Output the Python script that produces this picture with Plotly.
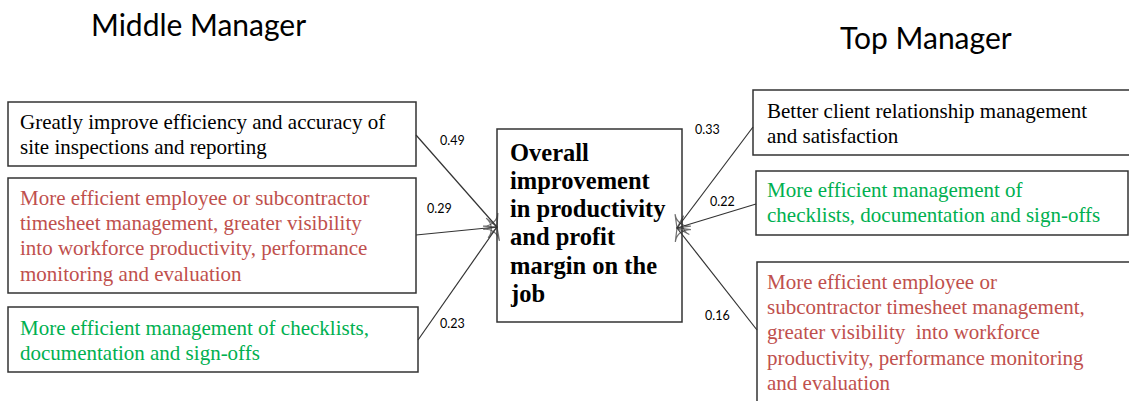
import plotly.graph_objects as go

# ---- data ----
group_titles = ["Middle Manager", "Top Manager"]
outcome_lines = ["Overall", "improvement", "in productivity", "and profit", "margin on the", "job"]
middle_items = [
    ["Greatly improve efficiency and accuracy of", "site inspections and reporting"],
    ["More efficient employee or subcontractor", "timesheet management, greater visibility",
     "into workforce productivity, performance", "monitoring and evaluation"],
    ["More efficient management of checklists,", "documentation and sign-offs"],
]
middle_weights = [0.49, 0.29, 0.23]
top_items = [
    ["Better client relationship management", "and satisfaction"],
    ["More efficient management of", "checklists, documentation and sign-offs"],
    ["More efficient employee or", "subcontractor timesheet management,", "greater visibility  into workforce",
     "productivity, performance monitoring", "and evaluation"],
]
top_weights = [0.33, 0.22, 0.16]
item_colors = ["#000000", "#C0504D", "#00B050"]
top_colors = ["#000000", "#00B050", "#C0504D"]

# ---- layout geometry (pixels) ----
W, H = 1129, 401
left_boxes = [(8, 102, 416, 166), (8, 178, 416, 293), (8, 307, 418, 372)]
left_first_line = [122, 198, 328]
left_start = [(416, 135), (416, 235), (418, 340)]
left_tip = (497, 227)
left_lbl = [(452, 140), (439, 208), (452, 323)]

right_boxes = [(753, 90, 1135, 155), (756, 171, 1128, 235), (757, 262, 1135, 410)]
right_first_line = [111, 190, 282]
right_start = [(753, 127), (756, 204), (757, 330)]
right_tip = (677, 228)
right_lbl = [(707, 129), (722, 201), (717, 315)]

center_box = (497, 129, 682, 322)
box_line_step = 25.2
center_line_step = 28.3

serif = "Liberation Serif, Times New Roman, serif"
sans = "Lato, Carlito, Calibri, sans-serif"

fig = go.Figure()
shapes = []
ann = []

def rect(b):
    shapes.append(dict(type="rect", xref="x", yref="y", x0=b[0], y0=b[1], x1=b[2], y1=b[3],
                       line=dict(color="#333333", width=1.5), fillcolor="rgba(0,0,0,0)"))

for b in left_boxes + right_boxes + [center_box]:
    rect(b)

def add_lines(lines, x0, y0, step, size, color, bold=False):
    for k, ln in enumerate(lines):
        t = "<b>" + ln + "</b>" if bold else ln
        ann.append(dict(x=x0, y=y0 + k * step, text=t, xanchor="left", yanchor="middle", align="left",
                        showarrow=False, font=dict(family=serif, size=size, color=color)))

for i, lines in enumerate(middle_items):
    add_lines(lines, 18, left_first_line[i], box_line_step, 21, item_colors[i])
for i, lines in enumerate(top_items):
    add_lines(lines, 765, right_first_line[i], box_line_step, 21, top_colors[i])
add_lines(outcome_lines, 508, 152, center_line_step, 24.5, "#000000", bold=True)

ann.append(dict(x=198, y=24, text=group_titles[0], showarrow=False, xanchor="center", yanchor="middle",
                font=dict(family=sans, size=30, color="#000000")))
ann.append(dict(x=926, y=37, text=group_titles[1], showarrow=False, xanchor="center", yanchor="middle",
                font=dict(family=sans, size=30, color="#000000")))

for (x, y), w in zip(left_lbl, middle_weights):
    ann.append(dict(x=x, y=y, text=f"{w:.2f}", showarrow=False, font=dict(family=sans, size=12.5, color="#000000")))
for (x, y), w in zip(right_lbl, top_weights):
    ann.append(dict(x=x, y=y, text=f"{w:.2f}", showarrow=False, font=dict(family=sans, size=12.5, color="#000000")))

def arrow(s, tip):
    fig.add_trace(go.Scatter(x=[s[0], tip[0]], y=[s[1], tip[1]], mode="lines+markers",
                             line=dict(color="#333333", width=1.2),
                             marker=dict(symbol=["line-ew", "arrow-wide-open"], size=[0, 14], angleref="previous",
                                         color="#333333", line=dict(color="#333333", width=1.2)),
                             hoverinfo="skip", showlegend=False))

for s in left_start:
    arrow(s, left_tip)
for s in right_start:
    arrow(s, right_tip)

fig.update_layout(
    width=W, height=H, margin=dict(l=0, r=0, t=0, b=0),
    paper_bgcolor="white", plot_bgcolor="white",
    xaxis=dict(range=[0, W], visible=False, fixedrange=True),
    yaxis=dict(range=[H, 0], visible=False, fixedrange=True),
    shapes=shapes, annotations=ann,
)
fig.write_html("out.html", config={"displayModeBar": False},
               post_script="document.body.style.margin='0px';document.body.style.overflow='hidden';")
